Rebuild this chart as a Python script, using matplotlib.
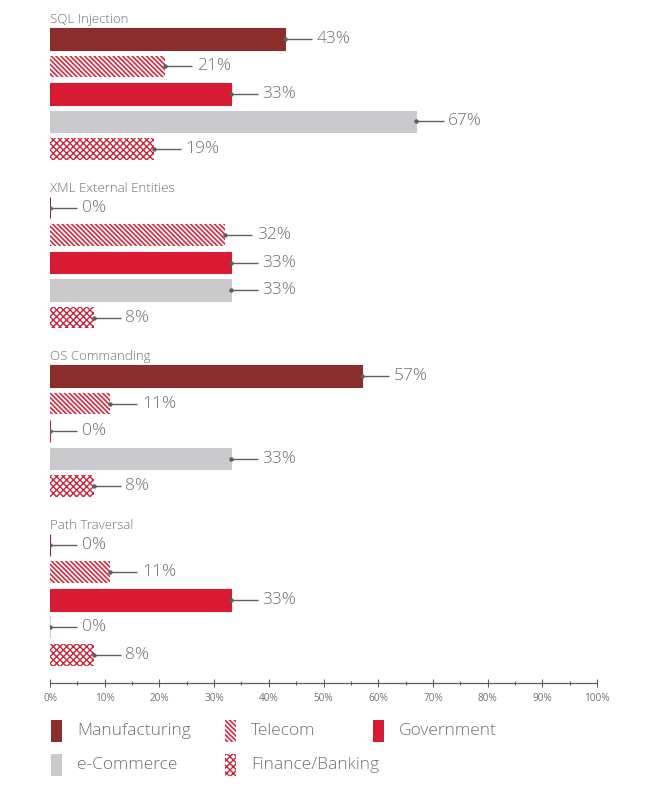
import matplotlib
matplotlib.use("Agg")
import matplotlib.pyplot as plt
from matplotlib.patches import Rectangle
from matplotlib.ticker import MultipleLocator, FuncFormatter

# ---- data ----
groups = ["SQL Injection", "XML External Entities", "OS Commanding", "Path Traversal"]
sectors = ["Manufacturing", "Telecom", "Government", "e-Commerce", "Finance/Banking"]
manufacturing = [43, 0, 57, 0]
telecom = [21, 32, 11, 11]
government = [33, 33, 0, 33]
ecommerce = [67, 33, 33, 0]
finance = [19, 8, 8, 8]
x_ticks = [0, 10, 20, 30, 40, 50, 60, 70, 80, 90, 100]

series = [manufacturing, telecom, government, ecommerce, finance]
styles = [
    dict(color="#8B2E2B", hatch=None),
    dict(color="white", hatch="\\" * 7, edge="#D42A3F", hlw=1.2),
    dict(color="#D81A33", hatch=None),
    dict(color="#CAC9CB", hatch=None),
    dict(color="white", hatch="x" * 5, edge="#C8243A", hlw=1.0),
]

plt.rcParams["font.family"] = ["Open Sans", "DejaVu Sans"]

TEXT = "#707070"
LINE = "#5F5F5F"
GROUP_STEP = 6.13
BAR_H = 0.79

fig = plt.figure(figsize=(6.62, 7.94), dpi=100)
ax = fig.add_axes([50 / 662, 1 - 683 / 794, 547 / 662, 683 / 794])

for g, gname in enumerate(groups):
    base = g * GROUP_STEP
    ax.text(0, base - 0.70, gname, fontsize=9.5, color=TEXT, ha="left", va="center",
            fontweight="light")
    for i, (vals, st) in enumerate(zip(series, styles)):
        y = base + i
        v = vals[g]
        if st["hatch"]:
            plt.rcParams["hatch.linewidth"] = st["hlw"]
            ax.barh(y, v, height=BAR_H, color=st["color"], hatch=st["hatch"],
                    edgecolor=st["edge"], linewidth=0)
        else:
            ax.barh(y, v, height=BAR_H, color=st["color"], edgecolor=st["color"],
                    linewidth=0.8)
        ax.plot([v, v + 4.94], [y, y], color=LINE, lw=1.0, solid_capstyle="butt")
        ax.plot([v], [y], marker="o", ms=3.2, color=LINE, mec="none")
        ax.text(v + 5.8, y, f"{v}%", fontsize=12.5, color=TEXT, ha="left", va="center",
                fontweight="light")

ax.set_xlim(0, 100)
ax.set_ylim(23.42, -1.418)
ax.set_xticks(x_ticks)
ax.xaxis.set_minor_locator(MultipleLocator(5))
ax.xaxis.set_major_formatter(FuncFormatter(lambda v, p: f"{int(v)}%"))
for s in ["top", "right", "left"]:
    ax.spines[s].set_visible(False)
ax.spines["bottom"].set_color(LINE)
ax.spines["bottom"].set_linewidth(0.9)
ax.set_yticks([])
ax.tick_params(axis="x", which="major", direction="inout", length=6, width=0.8,
               color=LINE, labelsize=7.2, labelcolor=TEXT, pad=4)
ax.tick_params(axis="x", which="minor", direction="inout", length=3.5, width=0.8,
               color=LINE)

# ---- legend (manual grid) ----
leg_cols = [51, 225, 373]
leg_rows = [731, 765]
positions = [(0, 0), (0, 1), (0, 2), (1, 0), (1, 1)]
for (r, c), name, st in zip(positions, sectors, styles):
    x0 = leg_cols[c] / 662
    yc = 1 - leg_rows[r] / 794
    w = 11 / 662
    h = 22 / 794
    if st["hatch"]:
        plt.rcParams["hatch.linewidth"] = st["hlw"]
        rect = Rectangle((x0, yc - h / 2), w, h, transform=fig.transFigure,
                         facecolor=st["color"], hatch=st["hatch"], edgecolor=st["edge"],
                         linewidth=0)
    else:
        rect = Rectangle((x0, yc - h / 2), w, h, transform=fig.transFigure,
                         facecolor=st["color"], linewidth=0)
    fig.add_artist(rect)
    fig.text(x0 + 26 / 662, yc, name, fontsize=12.5, color=TEXT, ha="left", va="center",
             fontweight="light")

fig.savefig("out.png", dpi=100, facecolor="white")
